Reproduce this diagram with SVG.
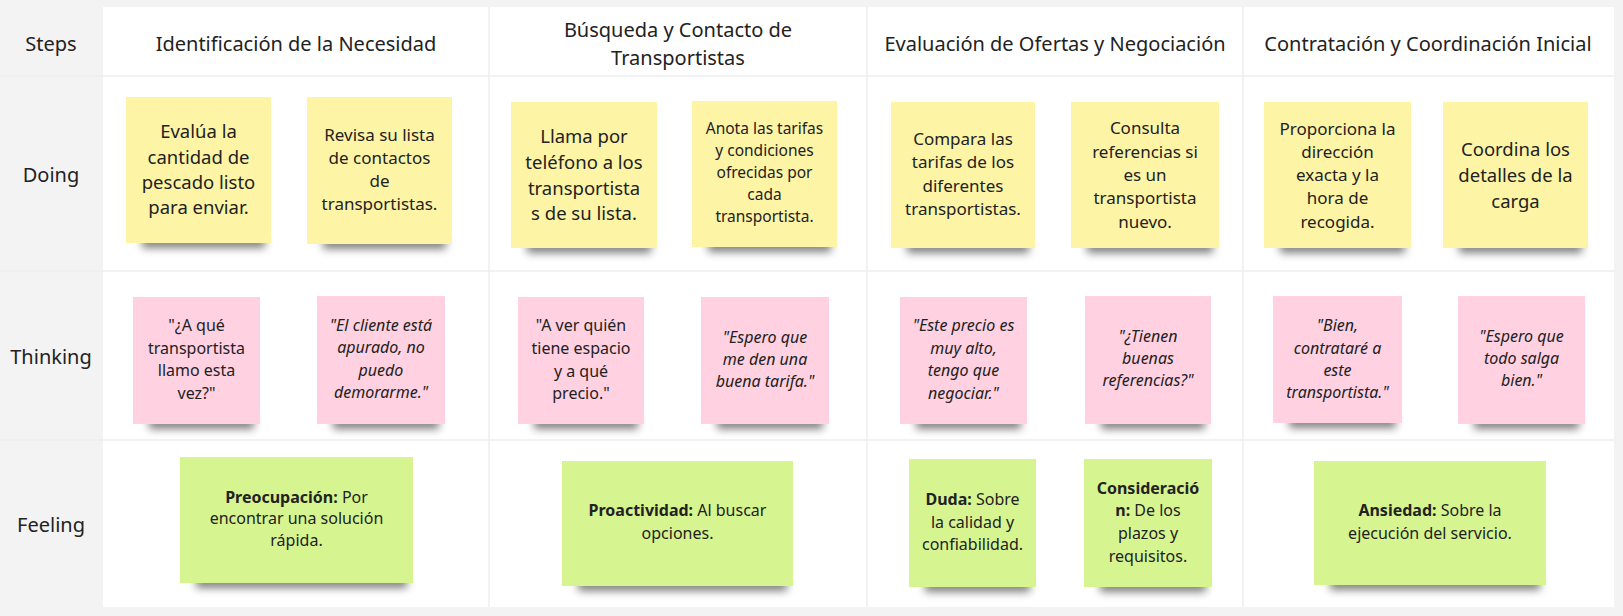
<svg xmlns="http://www.w3.org/2000/svg" width="1623" height="616" viewBox="0 0 1623 616">
<style>
text{font-family:"Noto Sans","Open Sans","DejaVu Sans",sans-serif;fill:#222;text-anchor:middle;dominant-baseline:central}
.hd{font-size:20px}
.lb{font-size:20px}
.y{fill:#fdf4a6}
.p{fill:#ffd1e1}
.g{fill:#d6f590}
.sh{fill:#000;opacity:.5;filter:url(#blur)}
.grid{stroke:#eeeeee;stroke-width:1.5;fill:none}
.i{font-style:italic}
.b{font-weight:bold}
.s16{font-size:16px}
.s17{font-size:17px}
.s18{font-size:18.5px}
.s155{font-size:15.5px}
</style>
<defs>
<filter id="blur" x="-20%" y="-150%" width="140%" height="400%"><feGaussianBlur stdDeviation="4.5"/></filter>
</defs>
<rect width="1623" height="616" fill="#f3f3f3"/>
<rect x="103" y="7" width="1511" height="600" fill="#ffffff"/>
<g id="grid" class="grid">
<line x1="0" y1="76" x2="1614" y2="76"/>
<line x1="0" y1="271" x2="1614" y2="271"/>
<line x1="0" y1="440" x2="1614" y2="440"/>
<line x1="489" y1="7" x2="489" y2="607"/>
<line x1="867" y1="7" x2="867" y2="607"/>
<line x1="1243" y1="7" x2="1243" y2="607"/>
</g>
<g id="row-labels" class="lb">
<text x="51" y="43" class="lb">Steps</text>
<text x="51" y="174" class="lb">Doing</text>
<text x="51" y="356" class="lb">Thinking</text>
<text x="51" y="524" class="lb">Feeling</text>
</g>
<g id="headers">
<text x="296" y="43" class="hd">Identificación de la Necesidad</text>
<text x="678" y="29" class="hd">Búsqueda y Contacto de</text>
<text x="678" y="57" class="hd">Transportistas</text>
<text x="1055" y="43" class="hd">Evaluación de Ofertas y Negociación</text>
<text x="1428" y="43" class="hd">Contratación y Coordinación Inicial</text>
</g>

<g id="doing-1">
<rect class="sh" x="142" y="236" width="123" height="12"/>
<rect class="y" x="126" y="97" width="145" height="146"/>
<text class="s18" x="198.5" y="130">Evalúa la</text>
<text class="s18" x="198.5" y="156">cantidad de</text>
<text class="s18" x="198.5" y="181">pescado listo</text>
<text class="s18" x="198.5" y="206">para enviar.</text>
</g>
<g id="doing-2">
<rect class="sh" x="323" y="237" width="123" height="12"/>
<rect class="y" x="307" y="97" width="145" height="147"/>
<text class="s17" x="379.5" y="134">Revisa su lista</text>
<text class="s17" x="379.5" y="157">de contactos</text>
<text class="s17" x="379.5" y="180">de</text>
<text class="s17" x="379.5" y="203">transportistas.</text>
</g>
<g id="doing-3">
<rect class="sh" x="527" y="241" width="124" height="12"/>
<rect class="y" x="511" y="102" width="146" height="146"/>
<text class="s18" x="584" y="135">Llama por</text>
<text class="s18" x="584" y="161">teléfono a los</text>
<text class="s18" x="584" y="187">transportista</text>
<text class="s18" x="584" y="212">s de su lista.</text>
</g>
<g id="doing-4">
<rect class="sh" x="708" y="240" width="123" height="12"/>
<rect class="y" x="692" y="101" width="145" height="146"/>
<text class="s155" x="764.5" y="128">Anota las tarifas</text>
<text class="s155" x="764.5" y="150">y condiciones</text>
<text class="s155" x="764.5" y="172">ofrecidas por</text>
<text class="s155" x="764.5" y="194">cada</text>
<text class="s155" x="764.5" y="216">transportista.</text>
</g>
<g id="doing-5">
<rect class="sh" x="907" y="241" width="122" height="12"/>
<rect class="y" x="891" y="102" width="144" height="146"/>
<text class="s17" x="963" y="138">Compara las</text>
<text class="s17" x="963" y="161">tarifas de los</text>
<text class="s17" x="963" y="185">diferentes</text>
<text class="s17" x="963" y="208">transportistas.</text>
</g>
<g id="doing-6">
<rect class="sh" x="1087" y="241" width="126" height="12"/>
<rect class="y" x="1071" y="102" width="148" height="146"/>
<text class="s17" x="1145" y="127">Consulta</text>
<text class="s17" x="1145" y="151">referencias si</text>
<text class="s17" x="1145" y="174">es un</text>
<text class="s17" x="1145" y="197">transportista</text>
<text class="s17" x="1145" y="221">nuevo.</text>
</g>
<g id="doing-7">
<rect class="sh" x="1280" y="241" width="125" height="12"/>
<rect class="y" x="1264" y="102" width="147" height="146"/>
<text class="s17" x="1337.5" y="128">Proporciona la</text>
<text class="s17" x="1337.5" y="151">dirección</text>
<text class="s17" x="1337.5" y="174">exacta y la</text>
<text class="s17" x="1337.5" y="197">hora de</text>
<text class="s17" x="1337.5" y="221">recogida.</text>
</g>
<g id="doing-8">
<rect class="sh" x="1459" y="241" width="123" height="12"/>
<rect class="y" x="1443" y="102" width="145" height="146"/>
<text class="s18" x="1515.5" y="148">Coordina los</text>
<text class="s18" x="1515.5" y="174">detalles de la</text>
<text class="s18" x="1515.5" y="200">carga</text>
</g>

<g id="thinking-1">
<rect class="sh" x="149" y="417" width="105" height="12"/>
<rect class="p" x="133" y="297" width="127" height="127"/>
<text class="s16" x="196.5" y="325">"¿A qué</text>
<text class="s16" x="196.5" y="348">transportista</text>
<text class="s16" x="196.5" y="370">llamo esta</text>
<text class="s16" x="196.5" y="393">vez?"</text>
</g>
<g id="thinking-2">
<rect class="sh" x="333" y="417" width="106" height="12"/>
<rect class="p" x="317" y="296" width="128" height="128"/>
<text class="s16 i" x="381" y="325">"El cliente está</text>
<text class="s16 i" x="381" y="347">apurado, no</text>
<text class="s16 i" x="381" y="370">puedo</text>
<text class="s16 i" x="381" y="392">demorarme."</text>
</g>
<g id="thinking-3">
<rect class="sh" x="534" y="417" width="104" height="12"/>
<rect class="p" x="518" y="297" width="126" height="127"/>
<text class="s16" x="581" y="325">"A ver quién</text>
<text class="s16" x="581" y="348">tiene espacio</text>
<text class="s16" x="581" y="371">y a qué</text>
<text class="s16" x="581" y="393">precio."</text>
</g>
<g id="thinking-4">
<rect class="sh" x="717" y="417" width="106" height="12"/>
<rect class="p" x="701" y="297" width="128" height="127"/>
<text class="s16 i" x="765" y="337">"Espero que</text>
<text class="s16 i" x="765" y="359">me den una</text>
<text class="s16 i" x="765" y="381">buena tarifa."</text>
</g>
<g id="thinking-5">
<rect class="sh" x="916" y="417" width="105" height="12"/>
<rect class="p" x="900" y="297" width="127" height="127"/>
<text class="s16 i" x="963.5" y="325">"Este precio es</text>
<text class="s16 i" x="963.5" y="348">muy alto,</text>
<text class="s16 i" x="963.5" y="370">tengo que</text>
<text class="s16 i" x="963.5" y="393">negociar."</text>
</g>
<g id="thinking-6">
<rect class="sh" x="1101" y="417" width="104" height="12"/>
<rect class="p" x="1085" y="296" width="126" height="128"/>
<text class="s16 i" x="1148" y="336">"¿Tienen</text>
<text class="s16 i" x="1148" y="358">buenas</text>
<text class="s16 i" x="1148" y="380">referencias?"</text>
</g>
<g id="thinking-7">
<rect class="sh" x="1289" y="416" width="107" height="12"/>
<rect class="p" x="1273" y="296" width="129" height="127"/>
<text class="s16 i" x="1337.5" y="325">"Bien,</text>
<text class="s16 i" x="1337.5" y="348">contrataré a</text>
<text class="s16 i" x="1337.5" y="370">este</text>
<text class="s16 i" x="1337.5" y="392">transportista."</text>
</g>
<g id="thinking-8">
<rect class="sh" x="1474" y="417" width="105" height="12"/>
<rect class="p" x="1458" y="296" width="127" height="128"/>
<text class="s16 i" x="1521.5" y="336">"Espero que</text>
<text class="s16 i" x="1521.5" y="358">todo salga</text>
<text class="s16 i" x="1521.5" y="380">bien."</text>
</g>

<g id="feeling-1">
<rect class="sh" x="196" y="576" width="211" height="12"/>
<rect class="g" x="180" y="457" width="233" height="126"/>
<text class="s16" x="296.5" y="497"><tspan class="b">Preocupación:</tspan> Por</text>
<text class="s16" x="296.5" y="518">encontrar una solución</text>
<text class="s16" x="296.5" y="540">rápida.</text>
</g>
<g id="feeling-2">
<rect class="sh" x="578" y="579" width="209" height="12"/>
<rect class="g" x="562" y="461" width="231" height="125"/>
<text class="s16" x="677.5" y="510"><tspan class="b">Proactividad:</tspan> Al buscar</text>
<text class="s16" x="677.5" y="533">opciones.</text>
</g>
<g id="feeling-3">
<rect class="sh" x="925" y="580" width="105" height="12"/>
<rect class="g" x="909" y="459" width="127" height="128"/>
<text class="s16" x="972.5" y="499"><tspan class="b">Duda:</tspan> Sobre</text>
<text class="s16" x="972.5" y="522">la calidad y</text>
<text class="s16" x="972.5" y="544">confiabilidad.</text>
</g>
<g id="feeling-4">
<rect class="sh" x="1100" y="580" width="106" height="12"/>
<rect class="g" x="1084" y="459" width="128" height="128"/>
<text class="s16" x="1148" y="488"><tspan class="b">Consideració</tspan></text>
<text class="s16" x="1148" y="510"><tspan class="b">n:</tspan> De los</text>
<text class="s16" x="1148" y="533">plazos y</text>
<text class="s16" x="1148" y="556">requisitos.</text>
</g>
<g id="feeling-5">
<rect class="sh" x="1330" y="578" width="210" height="12"/>
<rect class="g" x="1314" y="461" width="232" height="124"/>
<text class="s16" x="1430" y="510"><tspan class="b">Ansiedad:</tspan> Sobre la</text>
<text class="s16" x="1430" y="533">ejecución del servicio.</text>
</g>
</svg>
